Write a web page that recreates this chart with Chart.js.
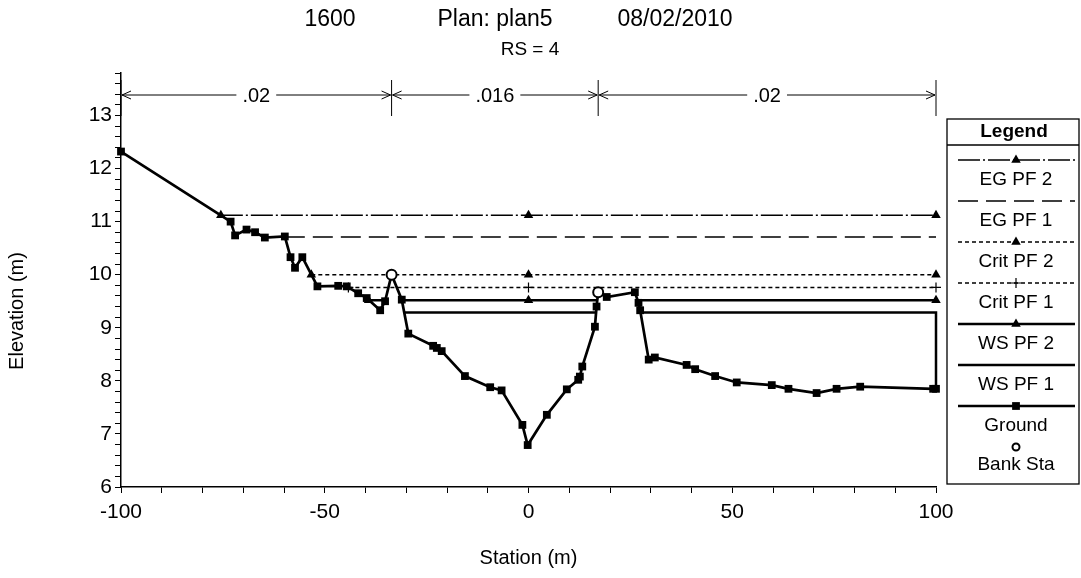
<!DOCTYPE html>
<html>
<head>
<meta charset="utf-8">
<script src="https://cdn.jsdelivr.net/npm/chart.js@4.4.1/dist/chart.umd.min.js"></script>
<style>
  html, body { margin: 0; padding: 0; background: #fff; }
  #wrap { width: 1081px; height: 578px; }
</style>
</head>
<body>
<div id="wrap"><canvas id="xsChart" width="1081" height="578"></canvas></div>
<script>
// Cross section plot, RS = 4
const plotFont = '"Liberation Sans", Arial, sans-serif';

const titleParts = ['1600', 'Plan: plan5', '08/02/2010'];
const subTitle = 'RS = 4';

// Manning's n breaks along the top
const nStations = [-100, -33.6, 17.1, 100];
const nValues = ['.02', '.016', '.02'];

// Ground profile
const groundStation = [-100, -73.1, -72.0, -69.2, -67.1, -64.7, -59.8, -58.4, -57.3, -55.5,
    -51.8, -46.7, -44.6, -41.8, -39.7, -36.4, -35.2, -33.6, -31.1, -29.5,
    -23.4, -22.5, -21.3, -15.6, -9.4, -6.6, -1.5, -0.2, 4.5, 9.4,
    12.2, 12.6, 13.2, 16.3, 16.7, 17.1, 19.2, 26.1, 27.0, 27.4,
    29.5, 31.0, 38.8, 40.9, 45.8, 51.1, 59.7, 63.8, 70.7, 75.6,
    81.4, 99.3, 100];
const groundElev = [12.32, 11.0, 10.74, 10.85, 10.8, 10.7, 10.72, 10.33, 10.13, 10.33,
    9.78, 9.79, 9.78, 9.65, 9.56, 9.33, 9.5, 10.0, 9.53, 8.89,
    8.66, 8.62, 8.56, 8.09, 7.88, 7.82, 7.17, 6.79, 7.36, 7.84,
    8.02, 8.08, 8.27, 9.02, 9.4, 9.67, 9.58, 9.67, 9.47, 9.33,
    8.4, 8.44, 8.3, 8.22, 8.09, 7.97, 7.92, 7.85, 7.77, 7.85,
    7.89, 7.85, 7.85];

const bankStation = [-33.6, 17.1];
const bankElev = [10.0, 9.67];

// Water surface / energy lines (null = break)
const egPf2Station = [-75.5, 0, 100];
const egPf2Elev = [11.12, 11.12, 11.12];
const egPf1Station = [-59.8, 0, 100];
const egPf1Elev = [10.71, 10.71, 10.71];
const critPf2Station = [-53.3, 0, 100];
const critPf2Elev = [10.0, 10.0, 10.0];
const critPf1Station = [-44.2, 0, 100];
const critPf1Elev = [9.76, 9.76, 9.76];
const wsPf2Station = [-39.25, -35.14, null, -31.1, 0, 16.88, null, 26.78, 100];
const wsPf2Elev = [9.52, 9.52, null, 9.52, 9.52, 9.52, null, 9.52, 9.52];
const wsPf1Station = [-30.5, 16.58, null, 27.5, 100, 100];
const wsPf1Elev = [9.29, 9.29, null, 9.29, 9.29, 7.85];

const legendLabels = ['EG PF 2', 'EG PF 1', 'Crit PF 2', 'Crit PF 1', 'WS PF 2', 'WS PF 1', 'Ground', 'Bank Sta'];

function toPoints(xs, ys) {
    return xs.map((x, i) => ({ x: x, y: ys[i] }));
}

// markers only at the start, the centre line and the right end
function endMarkers(size) {
    return function (ctx) {
        const p = ctx.dataset.data[ctx.dataIndex];
        if (!p || p.x === null) return 0;
        return (ctx.dataIndex === 0 || p.x === 0 || p.x === 100) ? size : 0;
    };
}

function lineSet(label, xs, ys, dash, width, style, size) {
    return {
        label: label,
        data: toPoints(xs, ys),
        showLine: true,
        spanGaps: false,
        clip: false,
        borderColor: '#000',
        backgroundColor: '#000',
        borderWidth: width,
        borderDash: dash,
        pointStyle: style || 'circle',
        pointRadius: style ? endMarkers(size) : 0,
        pointBorderWidth: style === 'cross' ? 1.2 : 0,
        markerSize: style ? size : 0,
        order: 3
    };
}

const datasets = [
    lineSet('EG PF 2', egPf2Station, egPf2Elev, [22, 3, 2, 3], 1.7, 'triangle', 5.5),
    lineSet('EG PF 1', egPf1Station, egPf1Elev, [20, 8], 1.7, null, 0),
    lineSet('Crit PF 2', critPf2Station, critPf2Elev, [4, 3], 1.4, 'triangle', 5.5),
    lineSet('Crit PF 1', critPf1Station, critPf1Elev, [4, 3], 1.4, 'cross', 5),
    lineSet('WS PF 2', wsPf2Station, wsPf2Elev, [], 2.5, 'triangle', 5.5),
    lineSet('WS PF 1', wsPf1Station, wsPf1Elev, [], 2.5, null, 0),
    {
        label: 'Ground',
        data: toPoints(groundStation, groundElev),
        showLine: true,
        clip: false,
        borderColor: '#000',
        backgroundColor: '#000',
        borderWidth: 2.7,
        borderDash: [],
        pointStyle: 'rect',
        pointRadius: 5.5,
        pointBorderWidth: 0,
        markerSize: 5.5,
        order: 1
    },
    {
        label: 'Bank Sta',
        data: toPoints(bankStation, bankElev),
        showLine: false,
        clip: false,
        borderColor: '#000',
        backgroundColor: '#fff',
        pointStyle: 'circle',
        pointRadius: 5,
        pointBorderWidth: 2,
        markerSize: 3.5,
        order: 0
    }
];

// titles, Manning's n bar, y title and the boxed legend
const hecrasText = {
    id: 'hecrasText',
    afterDraw(chart) {
        const ctx = chart.ctx;
        const xs = chart.scales.x;
        ctx.save();
        ctx.fillStyle = '#000';
        ctx.strokeStyle = '#000';
        ctx.textAlign = 'center';
        ctx.textBaseline = 'middle';

        ctx.font = '23px ' + plotFont;
        const titleX = [330, 495, 675];
        titleParts.forEach((t, i) => ctx.fillText(t, titleX[i], 20));
        ctx.font = '19px ' + plotFont;
        ctx.fillText(subTitle, 530, 50);

        // n values
        const yArrow = 95;
        ctx.lineWidth = 1;
        ctx.setLineDash([]);
        ctx.font = '20px ' + plotFont;
        nStations.forEach(s => {
            const px = xs.getPixelForValue(s);
            ctx.beginPath();
            ctx.moveTo(px, 80);
            ctx.lineTo(px, 116);
            ctx.stroke();
        });
        for (let i = 0; i < nValues.length; i++) {
            const x0 = xs.getPixelForValue(nStations[i]) + 1;
            const x1 = xs.getPixelForValue(nStations[i + 1]) - 1;
            const mid = (x0 + x1) / 2;
            const half = ctx.measureText(nValues[i]).width / 2 + 6;
            ctx.beginPath();
            ctx.moveTo(x0, yArrow);
            ctx.lineTo(mid - half, yArrow);
            ctx.moveTo(mid + half, yArrow);
            ctx.lineTo(x1, yArrow);
            ctx.moveTo(x0 + 9, yArrow - 4);
            ctx.lineTo(x0, yArrow);
            ctx.lineTo(x0 + 9, yArrow + 4);
            ctx.moveTo(x1 - 9, yArrow - 4);
            ctx.lineTo(x1, yArrow);
            ctx.lineTo(x1 - 9, yArrow + 4);
            ctx.stroke();
            ctx.fillText(nValues[i], mid, yArrow + 1);
        }

        // y axis title
        ctx.save();
        ctx.translate(17, 311);
        ctx.rotate(-Math.PI / 2);
        ctx.font = '20px ' + plotFont;
        ctx.fillText('Elevation (m)', 0, 0);
        ctx.restore();

        // legend box
        const bx0 = 947, bx1 = 1079, by0 = 119, by1 = 484;
        ctx.lineWidth = 1.3;
        ctx.strokeRect(bx0, by0, bx1 - bx0, by1 - by0);
        ctx.font = 'bold 19px ' + plotFont;
        ctx.fillText('Legend', 1014, 132);
        ctx.beginPath();
        ctx.moveTo(bx0, 145);
        ctx.lineTo(bx1, 145);
        ctx.stroke();

        ctx.font = '19px ' + plotFont;
        const cx = 1016;
        chart.data.datasets.forEach((ds, i) => {
            const ly = 160 + i * 41;
            if (ds.showLine) {
                ctx.lineWidth = ds.borderWidth;
                ctx.setLineDash(ds.borderDash || []);
                ctx.beginPath();
                ctx.moveTo(958, ly);
                ctx.lineTo(1075, ly);
                ctx.stroke();
                ctx.setLineDash([]);
            }
            if (ds.markerSize) {
                ctx.fillStyle = ds.backgroundColor;
                ctx.lineWidth = ds.pointBorderWidth || 1;
                Chart.helpers.drawPoint(ctx, {
                    pointStyle: ds.pointStyle,
                    radius: ds.markerSize,
                    rotation: 0,
                    borderWidth: ds.pointBorderWidth
                }, cx, ly);
                ctx.fillStyle = '#000';
            }
            ctx.fillText(legendLabels[i], cx, ds.showLine ? ly + 20 : ly + 18);
        });
        ctx.restore();
    }
};

new Chart(document.getElementById('xsChart'), {
    type: 'scatter',
    data: { datasets: datasets },
    options: {
        responsive: false,
        animation: false,
        layout: { padding: { top: 73, right: 145, left: 0, bottom: 0 } },
        plugins: {
            legend: { display: false },
            tooltip: { enabled: false }
        },
        scales: {
            x: {
                type: 'linear',
                min: -100,
                max: 100,
                afterFit(scale) { scale.height = 91; },
                border: { display: true, color: '#000', width: 1.5 },
                grid: { drawOnChartArea: false, drawTicks: true, tickLength: 6, color: '#000' },
                ticks: {
                    stepSize: 10,
                    autoSkip: false,
                    maxRotation: 0,
                    padding: 7,
                    color: '#000',
                    font: { family: plotFont, size: 21 },
                    callback: v => (Math.round(v) % 50 === 0 ? String(Math.round(v)) : '')
                },
                title: {
                    display: true,
                    text: 'Station (m)',
                    color: '#000',
                    font: { family: plotFont, size: 20 },
                    padding: { top: 0, bottom: 8 }
                }
            },
            y: {
                type: 'linear',
                min: 6,
                max: 13.8,
                afterFit(scale) { scale.width = 121; },
                border: { display: true, color: '#000', width: 1.5 },
                grid: { drawOnChartArea: false, drawTicks: true, tickLength: 6, color: '#000' },
                ticks: {
                    stepSize: 0.2,
                    autoSkip: false,
                    padding: 3,
                    color: '#000',
                    font: { family: plotFont, size: 21 },
                    callback: v => (Math.abs(v - Math.round(v)) < 1e-6 ? String(Math.round(v)) : '')
                }
            }
        }
    },
    plugins: [hecrasText]
});
</script>
</body>
</html>
